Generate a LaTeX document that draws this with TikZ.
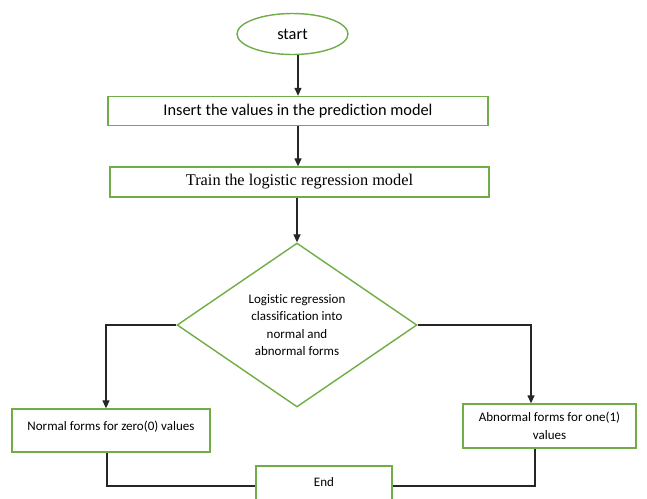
\documentclass[tikz,border=0pt]{standalone}
\usepackage{fontspec}
\setmainfont{Carlito}[Ligatures=NoCommon]
\newfontfamily\timesfont{Liberation Serif}
\usetikzlibrary{shapes.geometric,arrows.meta}
\definecolor{boxgreen}{RGB}{112,173,71}

\begin{document}
\begin{tikzpicture}[x=0.02cm,y=-0.02cm,
  box/.style={draw=boxgreen,line width=0.8pt,inner sep=1pt},
  line/.style={draw=black!85,line width=0.6pt},
  arr/.style={line,-{Triangle[length=4.5pt,width=4pt]}},
  big/.style={font=\fontsize{9.3}{11}\selectfont},
  small/.style={font=\fontsize{7.4}{10}\selectfont}]
\useasboundingbox (0,0) rectangle (647,498);
\clip (0,0) rectangle (647,498);
\node[box, ellipse, big, minimum width=2.22cm, minimum height=0.82cm] (start) at (292.5,34) {start};
\node[box, rectangle, big, minimum width=7.6cm, minimum height=0.58cm, text depth=1pt] (insert) at (298,111) {Insert the values in the prediction model};
\node[box, rectangle, big, minimum width=7.58cm, minimum height=0.6cm] (train) at (299.5,182) {\timesfont Train the logistic regression model};
\node[box, diamond, small, aspect=1.46, minimum width=4.8cm, minimum height=3.28cm, inner sep=0pt, align=center] (dec) at (297,325)
  {Logistic regression\\ classification into\\ normal and\\ abnormal forms};
\node[box, rectangle, small, minimum width=3.96cm, minimum height=0.86cm, text depth=5.5pt] (normal) at (111,430.5) {Normal forms for zero(0) values};
\node[box, rectangle, small, minimum width=3.46cm, minimum height=0.88cm, align=center] (abnormal) at (549.5,426) {Abnormal forms for one(1)\\ values};
\node[box, rectangle, small, minimum width=2.72cm, minimum height=0.8cm, text depth=5pt] (end) at (324,486) {End};
% connectors
\path[arr] (start.south -| insert.north) -- (insert.north);
\path[arr] (insert.south) -- (insert.south |- train.north);
\path[arr] (dec.north |- train.south) -- (dec.north);
\path[arr] (dec.west) -| ([xshift=-0.1cm]normal.north);
\path[arr] (dec.east) -| ([xshift=-0.37cm]abnormal.north);
\path[line] ([xshift=-0.08cm]normal.south) |- (end.west);
\path[line] ([xshift=-0.29cm]abnormal.south) |- (end.east);
\end{tikzpicture}
\end{document}
